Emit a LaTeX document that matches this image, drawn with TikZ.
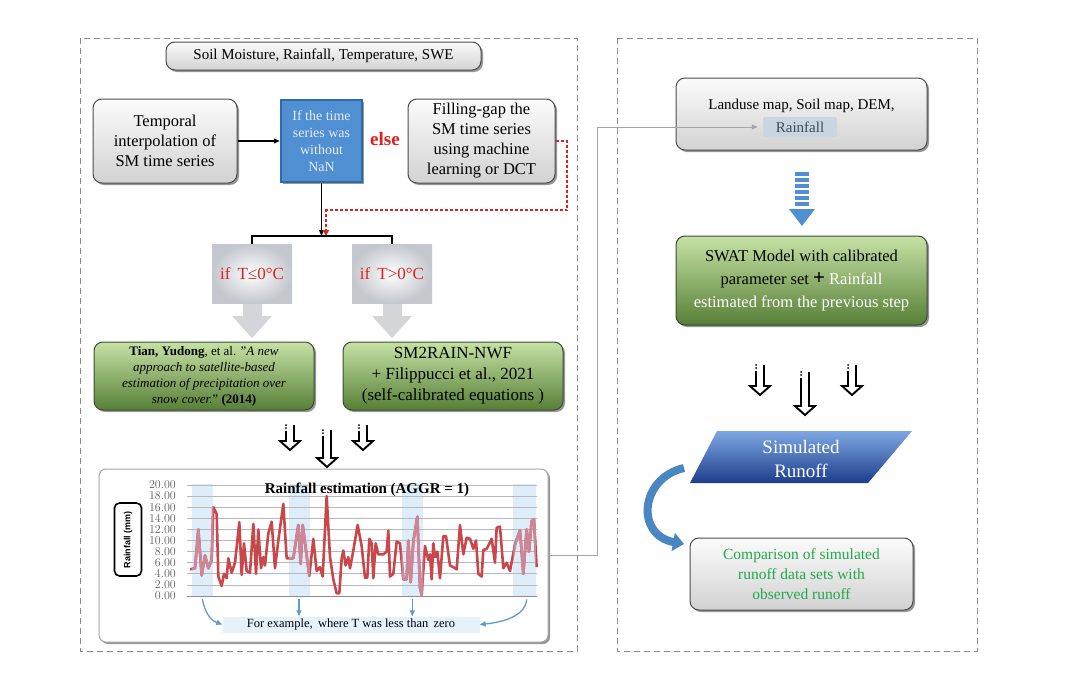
\documentclass[tikz,border=0pt]{standalone}
\usepackage{fontspec}
\setmainfont{Liberation Serif}
\newfontfamily\chartsans{Liberation Sans}
\usetikzlibrary{arrows.meta,shadows,calc}
\definecolor{panelc}{HTML}{8A8A8A}
\definecolor{boxedge}{HTML}{4D4D4D}
\definecolor{graytop}{HTML}{FBFBFB}
\definecolor{graybot}{HTML}{D2D2D2}
\definecolor{greentop}{HTML}{C6E2A6}
\definecolor{greenmid}{HTML}{93BE6C}
\definecolor{greenbot}{HTML}{577F36}
\definecolor{greenedge}{HTML}{3E4A34}
\definecolor{bluebox}{HTML}{4F8FD2}
\definecolor{blueedge}{HTML}{2F6BA8}
\definecolor{bluetxt}{HTML}{E6EEF8}
\definecolor{elsered}{HTML}{E02020}
\definecolor{ifgray}{HTML}{C4C7CD}
\definecolor{ifarrow}{HTML}{D3D5D9}
\definecolor{raincol}{HTML}{C9474A}
\definecolor{rainpink}{HTML}{CD8597}
\definecolor{bandc}{HTML}{DDEEFA}
\definecolor{gridc}{HTML}{B8B8B8}
\definecolor{ticktxt}{HTML}{5F5F5F}
\definecolor{exarrow}{HTML}{5E9CCF}
\definecolor{exfill}{HTML}{E6F2FB}
\definecolor{connc}{HTML}{A5A5A5}
\definecolor{hlfill}{HTML}{C9D5E1}
\definecolor{hltxt}{HTML}{3D4B5A}
\definecolor{simtop}{HTML}{7DA7E2}
\definecolor{simbot}{HTML}{1D3E8C}
\definecolor{curvec}{HTML}{4A86C2}
\definecolor{comptxt}{HTML}{22A84A}
\newcommand{\hollowarrow}[3]{%
  \draw[hollow] (#1-4,#2+6) -- (#1-4,#3-9) -- (#1-10,#3-9) -- (#1,#3) -- (#1+10,#3-9) -- (#1+4,#3-9) -- (#1+4,#2);
  \fill (#1-4,#2) circle (1pt) (#1-4,#2+3) circle (1pt);}
\begin{document}
\begin{tikzpicture}[x=1pt,y=-1pt,
  panel/.style={draw=panelc,line width=0.9pt,dash pattern=on 6pt off 4pt},
  shad/.style={drop shadow={shadow xshift=2pt,shadow yshift=-2pt,opacity=0.55,fill=black!75}},
  graybox/.style={rounded corners=9pt,draw=boxedge,line width=1pt,top color=graytop,bottom color=graybot,shad,align=center,inner sep=0pt},
  greenbox/.style={rounded corners=9pt,draw=greenedge,line width=1pt,top color=greentop,middle color=greenmid,bottom color=greenbot,shad,align=center,inner sep=0pt},
  ifbox/.style={inner color=white,outer color=ifgray,draw=none,inner sep=0pt,minimum width=80pt,minimum height=59pt,text=elsered,font=\fontsize{17}{20}\selectfont},
  hollow/.style={draw=black,line width=1.9pt,line join=miter},
  conn/.style={draw=black,line width=1.2pt,-{Triangle[length=6pt,width=5pt]}},
  redconn/.style={draw=elsered,line width=1.3pt,dash pattern=on 3pt off 2pt,-{Triangle[length=6pt,width=6pt]}},
  exconn/.style={draw=exarrow,line width=1.3pt,-{Triangle[length=6pt,width=5pt]}},
]
\useasboundingbox[fill=white] (0,0) rectangle (1080,688);

% panels
\draw[panel] (80,38) rectangle (577,651);
\draw[panel] (617,38) rectangle (977,651);

% ---------- left panel ----------
\node[graybox,minimum width=315pt,minimum height=28pt,font=\fontsize{15}{18}\selectfont] (top) at (323.5,56) {Soil Moisture, Rainfall, Temperature, SWE};

\node[graybox,minimum width=144pt,minimum height=84pt,font=\fontsize{16.5}{20}\selectfont] (temp) at (165,141) {Temporal\\interpolation of\\SM time series};

\node[draw=blueedge,line width=2.5pt,fill=bluebox,shad,minimum width=81pt,minimum height=82pt,inner sep=0pt,align=center,text=bluetxt,font=\fontsize{14}{17}\selectfont] (nan) at (321.5,141) {If the time\\series was\\without\\NaN};

\node[text=elsered,font=\bfseries\fontsize{19}{20}\selectfont] (else) at (385,139) {else};

\node[graybox,minimum width=147pt,minimum height=84pt,font=\fontsize{16.5}{20}\selectfont] (fillgap) at (481.5,141) {Filling-gap the\\SM time series\\using machine\\learning or DCT};

\draw[conn] (temp.east) -- (nan.west);

\coordinate (junc) at (nan.south |- 0,236);
\draw[conn] (nan.south) -- (junc);
\draw[redconn] (fillgap.east) -- (567,141) -- (567,210) -- (326,210) -- (326,236);

% if boxes with gray down arrows
\fill[ifarrow] (243,303) -- (243,316) -- (232,316) -- (252,338) -- (272,316) -- (262,316) -- (262,303) -- cycle;
\fill[ifarrow] (383,303) -- (383,316) -- (372,316) -- (392,338) -- (412,316) -- (402,316) -- (402,303) -- cycle;
\node[ifbox] (ifL) at (252,273.5) {if\, T≤0°C};
\node[ifbox] (ifR) at (392,273.5) {if\, T>0°C};
\draw[black,line width=1.2pt] (ifL.north) -- (ifL.north |- junc) -- (ifR.north |- junc) -- (ifR.north);

\node[greenbox,minimum width=220pt,minimum height=68pt,font=\fontsize{13}{16}\selectfont] (tian) at (204,376) {\textbf{Tian, Yudong}, et al. "\textit{A new}\\\textit{approach to satellite-based}\\\textit{estimation of precipitation over}\\\textit{snow cover.}" \textbf{(2014)}};
\node[greenbox,minimum width=220pt,minimum height=68pt,font=\fontsize{17}{21}\selectfont] (sm2) at (453,376) {SM2RAIN-NWF\\+ Filippucci et al., 2021\\(self-calibrated equations )};

% hollow arrows
\hollowarrow{290}{425}{450}
\hollowarrow{327}{430}{467}
\hollowarrow{363}{425}{450}

% chart box
\node[draw=black!35,line width=1pt,fill=white,rounded corners=7pt,shad,minimum width=449pt,minimum height=173pt,inner sep=0pt] (chart) at (323.5,555.5) {};

\begin{scope}[shift={(80,596)},x=0.33333pt,y=5.55pt]
  \fill[bandc] (335,0) rectangle (400,20.2);
  \fill[bandc] (627,0) rectangle (690,20.2);
  \fill[bandc] (965,0) rectangle (1030,20.2);
  \fill[bandc] (1300,0) rectangle (1368,20.2);
  \foreach \v in {2,4,...,20} {\draw[gridc,line width=0.8pt] (320,\v) -- (1370,\v);}
  \draw[black!45,line width=1pt] (320,0) -- (1370,0);
  \foreach \v in {0,2,...,20} {%
    \node[anchor=east,inner sep=0pt,text=ticktxt,font=\chartsans\bfseries\fontsize{11.5}{11.5}\selectfont] at (288,\v) {\pgfmathprintnumber[fixed,fixed zerofill,precision=2]{\v}};}
  \def\raindata{(330,4.8) -- (345,5) -- (355,12) -- (365,3.7) -- (375,7.3) -- (385,5) -- (395,6.5) -- (400,16) -- (410,14.8) -- (415,3.5) -- (425,1.8) -- (432,4) -- (440,3.2) -- (445,6.8) -- (455,4.2) -- (465,6) -- (478,13.3) -- (485,3.8) -- (492,9.5) -- (500,4.5) -- (510,4.2) -- (520,13) -- (528,4) -- (535,12) -- (543,5) -- (550,7) -- (555,5.5) -- (565,11.3) -- (575,13.4) -- (585,5) -- (595,10) -- (610,16.6) -- (620,6.8) -- (640,6.8) -- (655,12.8) -- (662,5.8) -- (668,12.8) -- (688,3.6) -- (700,10.3) -- (710,4.5) -- (720,5.2) -- (728,3.5) -- (740,18) -- (750,7) -- (760,3) -- (770,0.5) -- (778,0.5) -- (785,6.8) -- (790,8.2) -- (797,5.5) -- (805,7) -- (810,5) -- (820,8.2) -- (833,12.8) -- (845,9) -- (855,3.3) -- (862,3.3) -- (868,10.3) -- (875,9.5) -- (880,3.2) -- (887,9.5) -- (895,7.5) -- (910,7.5) -- (920,8) -- (925,11.8) -- (930,3.5) -- (940,4) -- (950,9.8) -- (960,9.5) -- (970,3) -- (980,3) -- (985,10) -- (992,2.5) -- (1000,9.8) -- (1012,14.3) -- (1020,1.5) -- (1025,0.2) -- (1035,9) -- (1045,6.5) -- (1050,7.5) -- (1055,3) -- (1060,9.5) -- (1065,7) -- (1072,8) -- (1080,3.2) -- (1090,10.8) -- (1098,10.8) -- (1110,5.5) -- (1120,5.2) -- (1130,4.8) -- (1140,12.8) -- (1150,7.5) -- (1160,10.5) -- (1170,10.3) -- (1180,8.5) -- (1188,10) -- (1195,4) -- (1205,3.5) -- (1210,8.3) -- (1220,8.5) -- (1235,10.3) -- (1245,6) -- (1250,12.3) -- (1260,12.5) -- (1270,5) -- (1280,6) -- (1290,4.5) -- (1305,9.3) -- (1320,11.8) -- (1330,4) -- (1340,12) -- (1347,8) -- (1355,13.5) -- (1362,13.8) -- (1370,5.2)}
  \draw[raincol,line width=2.6pt,line join=round] \raindata;
  \begin{scope}
    \clip (335,-1) rectangle (400,21) (627,-1) rectangle (690,21) (965,-1) rectangle (1030,21) (1300,-1) rectangle (1368,21);
    \draw[rainpink,line width=2.6pt,line join=round] \raindata;
  \end{scope}
  \node[font=\bfseries\fontsize{15}{16}\selectfont] (ctitle) at (861,19.1) {Rainfall estimation (AGGR = 1)};
  \coordinate (b1) at (367,-0.6);
  \coordinate (b2) at (657,-0.6);
  \coordinate (b3) at (997,-0.6);
  \coordinate (b4) at (1340,-0.6);
\end{scope}

\node[draw=black,line width=1.6pt,rounded corners=5pt,rotate=90,minimum width=73pt,minimum height=27pt,inner sep=0pt,font=\chartsans\bfseries\fontsize{9}{10}\selectfont] (ylab) at (128,539.5) {Rainfall (mm)};

\node[fill=exfill,minimum width=257pt,minimum height=16pt,inner sep=0pt,font=\fontsize{12.5}{14}\selectfont] (ex) at (351,624.5) {For example,\, where T was less than\, zero};
\draw[exconn] (b1) .. controls (205,612) and (210,620) .. (ex.west);
\draw[exconn] (b2) -- (b2 |- ex.north);
\draw[exconn] (b3) -- (b3 |- ex.north);
\draw[exconn] (b4) .. controls (526,615) and (505,622) .. (ex.east);

% ---------- right panel ----------
\node[graybox,minimum width=251pt,minimum height=72pt] (land) at (801.5,114) {};
\node[font=\fontsize{15}{18}\selectfont] (landt) at (801.5,106) {Landuse map, Soil map, DEM,};
\node[fill=hlfill,rounded corners=2pt,minimum width=74pt,minimum height=20pt,inner sep=0pt,text=hltxt,font=\fontsize{15}{18}\selectfont] (rain) at (800,127) {Rainfall};

\coordinate (bend) at (597,0);
\draw[connc,line width=1pt,-{Triangle[length=6pt,width=5pt]},shorten >=5pt] (chart.east) -- (chart.east -| bend) |- (rain.west);

% striped blue arrow
\foreach \yy in {172,178,184,190,196,202} {\fill[bluebox] (795,\yy) rectangle (809,\yy+3.5);}
\fill[bluebox] (789,209) -- (815,209) -- (802,226) -- cycle;

\node[greenbox,minimum width=251pt,minimum height=89pt,font=\fontsize{16.5}{23}\selectfont] (swat) at (801.5,280.5) {SWAT Model with calibrated\\parameter set {\fontsize{21}{21}\selectfont\bfseries +} \textcolor{white}{Rainfall}\\\textcolor{white}{estimated from the previous step}};

\hollowarrow{760}{365}{395}
\hollowarrow{805}{372}{415}
\hollowarrow{852}{365}{395}

% simulated runoff parallelogram
\shade[top color=simtop,bottom color=simbot] (717,431) -- (912,431) -- (868,483) -- (690,483) -- cycle;
\node[text=white,align=center,font=\fontsize{19}{24}\selectfont] (sim) at (801,459) {Simulated\\Runoff};

\node[graybox,minimum width=223pt,minimum height=72pt,text=comptxt,font=\fontsize{15.5}{20}\selectfont] (comp) at (801.5,574) {Comparison of simulated\\runoff data sets with\\observed runoff};

\coordinate (cs) at (684,468);
\coordinate (ce) at (684,544);
\draw[curvec,line width=8pt,-{Triangle[length=11pt,width=18pt]}] (cs) .. controls (640,478) and (635,535) .. (ce);

\end{tikzpicture}
\end{document}
